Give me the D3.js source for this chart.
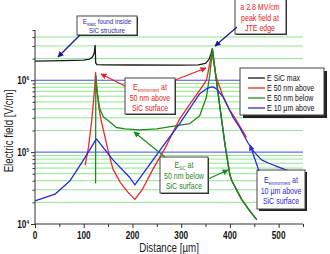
<!DOCTYPE html>
<html>
<head>
<meta charset="utf-8">
<script src="https://cdn.jsdelivr.net/npm/d3@7"></script>
<style>
body{margin:0;background:#fff}
svg text{font-family:"Liberation Sans",Arial,sans-serif}
</style>
</head>
<body>
<div id="chart"></div>
<script>
// distance [um] / field [V/cm]
const sicMax = [[0,1.85e6],[60,1.87e6],[100,1.9e6],[112,1.97e6],[118,2.1e6],[121.5,2.4e6],[123.5,3.05e6],[124.5,1.75e6],[127,1.65e6],[140,1.64e6],[200,1.63e6],[300,1.62e6],[335,1.64e6],[350,1.72e6],[357,1.95e6],[361,2.3e6],[364,2.75e6],[370,1.3e6],[380,4.0e5],[390,1.26e5],[400,4.8e4],[404,4.0e4],[424,2.2e4],[440,1.55e4],[455,1.15e4]]
const above50 = [[103,6.6e4],[110,1.2e5],[116,2.6e5],[120,5.0e5],[122.5,8.0e5],[124.3,1.28e6],[126,9.5e5],[128,6.5e5],[131,4.2e5],[136,2.7e5],[143,1.7e5],[150,1.05e5],[160,5.8e4],[175,3.8e4],[190,2.8e4],[205,2.2e4],[220,3.0e4],[242,5.8e4],[266,1.1e5],[297,2.9e5],[320,4.9e5],[340,7.6e5],[352,1.0e6],[360,1.9e6],[364,2.3e6],[372,1.1e6],[386,5.9e5],[400,3.8e5],[413,2.8e5],[434,1.6e5]]
const below50 = [[124.3,3.7e4],[124.8,1.15e6],[126,8.5e5],[129,5.9e5],[133,4.0e5],[140,3.1e5],[150,2.75e5],[167,2.2e5],[185,2.1e5],[215,2.04e5],[250,2.1e5],[297,2.37e5],[318,2.5e5],[338,3.2e5],[352,5.9e5],[358,1.1e6],[362,1.9e6],[364,2.75e6],[370,1.3e6],[380,4.0e5],[390,1.26e5],[400,4.8e4],[404,4.0e4],[424,2.2e4],[440,1.55e4],[455,1.15e4]]
const above10um = [[0,2.1e4],[41,2.6e4],[72,4.0e4],[99,7.7e4],[126,1.53e5],[160,7.8e4],[195,4.4e4],[205,3.5e4],[266,1.3e5],[297,2.5e5],[338,6.5e5],[352,7.6e5],[360,8.0e5],[365,8.1e5],[372,7.6e5],[386,5.9e5],[406,3.1e5],[420,2.2e5],[437,1.35e5],[450,1.0e5],[465,7.8e4],[480,7.0e4],[500,6.2e4],[526,5.3e4],[545,4.9e4]]

const seriesNames = ["E SiC max","E 50 nm above","E 50 nm below","E 10 \u00b5m above"]
const seriesColors = ["#1a1a1a","#f02828","#1e8a1e","#2828e0"]
const xTicks = [0,100,200,300,400,500]
const xMinorTicks = [50,150,250,350,450,550]
const yDecades = [1e4,1e5,1e6]

const canvas = {width:330,height:254,left:35,right:303,top:30,bottom:224}
const squeeze = 0.78

const svg = d3.select("#chart").append("svg").attr("width",canvas.width).attr("height",canvas.height)

const x = d3.scaleLinear().domain([0,550]).range([canvas.left,canvas.right])
const y = d3.scaleLog().domain([1e4,5e6]).range([canvas.bottom,canvas.top])

// markers
const defs = svg.append("defs")
function marker(id,color){
    defs.append("marker").attr("id",id).attr("viewBox","0 0 10 10").attr("refX",9).attr("refY",5)
     .attr("markerWidth",5).attr("markerHeight",5).attr("orient","auto")
     .append("path").attr("d","M0,0L10,5L0,10z").attr("fill",color)
}
marker("aNavy","#1a1a90"); marker("aRed","#e82020"); marker("aGreen","#1e8a1e"); marker("aBlue","#2828e0")

// narrow text helper
function ntext(parent,px,py,anchor){
    return parent.append("text").attr("transform",`translate(${px},${py}) scale(${squeeze},1)`)
     .attr("text-anchor",anchor)
}

// grid lines
const minorVals = []
yDecades.forEach(dc => { for(let k=2;k<=9;k++){ if(dc*k<5e6) minorVals.push(dc*k) } })
svg.append("g").selectAll("line").data(minorVals).enter().append("line")
 .attr("x1",canvas.left).attr("x2",canvas.right).attr("y1",d=>y(d)).attr("y2",d=>y(d))
 .attr("stroke","#8fe68f").attr("stroke-width",1)
svg.append("g").selectAll("line").data([1e5,1e6]).enter().append("line")
 .attr("x1",canvas.left).attr("x2",canvas.right).attr("y1",d=>y(d)).attr("y2",d=>y(d))
 .attr("stroke","#4a4ae8").attr("stroke-width",1)

// axes
const xAxis = svg.append("g").attr("transform",`translate(0,${canvas.bottom})`)
 .call(d3.axisBottom(x).tickValues(xTicks).tickSize(4).tickFormat(""))
svg.append("g").attr("transform",`translate(0,${canvas.bottom})`)
 .call(d3.axisBottom(x).tickValues(xMinorTicks).tickSize(3).tickFormat(""))
 .call(g=>g.select(".domain").remove())
xAxis.select(".domain").attr("d",`M${canvas.left},0H${canvas.right}`)
xTicks.forEach(v=>{
    ntext(svg,x(v),239,"middle").attr("font-size","10.5px").attr("font-weight","bold").attr("fill","#111").text(v)
})

const yAxis = svg.append("g").attr("transform",`translate(${canvas.left},0)`)
 .call(d3.axisLeft(y).tickValues(yDecades).tickSize(4).tickFormat(""))
yAxis.select(".domain").attr("d",`M0,${canvas.top}V${canvas.bottom}`)
svg.append("g").attr("transform",`translate(${canvas.left},0)`)
 .call(d3.axisLeft(y).tickValues(minorVals.concat([5e6])).tickSize(2.5).tickFormat(""))
 .call(g=>g.select(".domain").remove())
svg.selectAll(".domain").attr("stroke","#333")
svg.selectAll(".tick line").attr("stroke","#333")

yDecades.forEach(d=>{
    const t = ntext(svg,canvas.left-6,y(d)+4,"end").attr("font-size","10.5px").attr("font-weight","bold").attr("fill","#111")
    t.append("tspan").text("10")
    t.append("tspan").attr("dy","-4.5").attr("font-size","6px").text(Math.round(Math.log10(d)))
})

ntext(svg,(canvas.left+canvas.right)/2,252,"middle").attr("font-size","12.5px").attr("fill","#222").text("Distance [\u00b5m]")
svg.append("text").attr("transform",`translate(13,131) rotate(-90) scale(${squeeze},1)`).attr("text-anchor","middle")
 .attr("font-size","12.5px").attr("fill","#222").text("Electric field [V/cm]")

// curves
const line = d3.line().x(d=>x(d[0])).y(d=>y(d[1]))
;[sicMax,above50,below50,above10um].forEach((s,i)=>{
    svg.append("path").datum(s).attr("fill","none").attr("stroke",seriesColors[i])
     .attr("stroke-width",1.3).attr("stroke-linejoin","round").attr("d",line)
})

// annotation boxes
function box(x0,y0,w,h,shadow){
    if(shadow) svg.append("rect").attr("x",x0+shadow).attr("y",y0+shadow).attr("width",w).attr("height",h).attr("fill","#222")
    svg.append("rect").attr("x",x0).attr("y",y0).attr("width",w).attr("height",h)
     .attr("fill","#fff").attr("stroke","#444").attr("stroke-width",1)
}
function arrow(x1,y1,x2,y2,color,mk){
    svg.append("line").attr("x1",x1).attr("y1",y1).attr("x2",x2).attr("y2",y2)
     .attr("stroke",color).attr("stroke-width",1.2).attr("marker-end",`url(#${mk})`)
}
function label(cx,yy,color,parts,fs){
    const t = ntext(svg,cx,yy,"middle").attr("font-size",(fs||9)+"px").attr("fill",color)
    parts.forEach(p=>{
        if(p.sub) t.append("tspan").attr("font-size","5px").attr("dy","2").text(p.sub)
        else t.append("tspan").attr("dy",p.after ? "-2" : null).text(p.t)
    })
}

box(77,16,60,19,1)
label(107,24,"#2a2aa8",[{t:"E"},{sub:"static"},{t:" found inside",after:true}],8)
label(107,33,"#2a2aa8",[{t:"SiC structure"}],8)
arrow(80,35,58,57,"#1a1a90","aNavy")

box(235,-2,51,36,1)
label(260,10,"#e82020",[{t:"a 2.8 MV/cm"}])
label(260,21,"#e82020",[{t:"peak field at"}])
label(260,31,"#e82020",[{t:"JTE edge"}])
arrow(237,27,215,46,"#1a1a90","aNavy")

box(125,78,50,36,1)
label(150,90,"#e82020",[{t:"E"},{sub:"environment"},{t:" at",after:true}])
label(150,101,"#e82020",[{t:"50 nm above"}])
label(150,111,"#e82020",[{t:"SiC surface"}])
arrow(125,86,101,74,"#e82020","aRed")
arrow(175,80,206,68,"#e82020","aRed")

box(160,157,48,36,1)
label(184,168,"#1e8a1e",[{t:"E"},{sub:"SiC"},{t:" at",after:true}])
label(184,179,"#1e8a1e",[{t:"50 nm below"}])
label(184,189,"#1e8a1e",[{t:"SiC surface"}])
arrow(165,157,134,132,"#1e8a1e","aGreen")
arrow(208,179,228,170,"#1e8a1e","aGreen")

box(257,170,48,39,2)
label(281,183,"#2828e0",[{t:"E"},{sub:"environment"},{t:" at",after:true}])
label(281,194,"#2828e0",[{t:"10 \u00b5m above"}])
label(281,204,"#2828e0",[{t:"SiC surface"}])
arrow(259,171,250,145,"#2828e0","aBlue")

// legend
box(240,68,84,47,3)
const lg = svg.append("g").attr("transform","translate(248,78)")
seriesNames.forEach((n,i)=>{
    lg.append("line").attr("x1",0).attr("x2",17).attr("y1",i*10).attr("y2",i*10).attr("stroke",seriesColors[i]).attr("stroke-width",1.3)
    ntext(lg,19,i*10+3,"start").attr("font-size","9px").attr("fill","#111").text(n)
})
</script>
</body>
</html>
